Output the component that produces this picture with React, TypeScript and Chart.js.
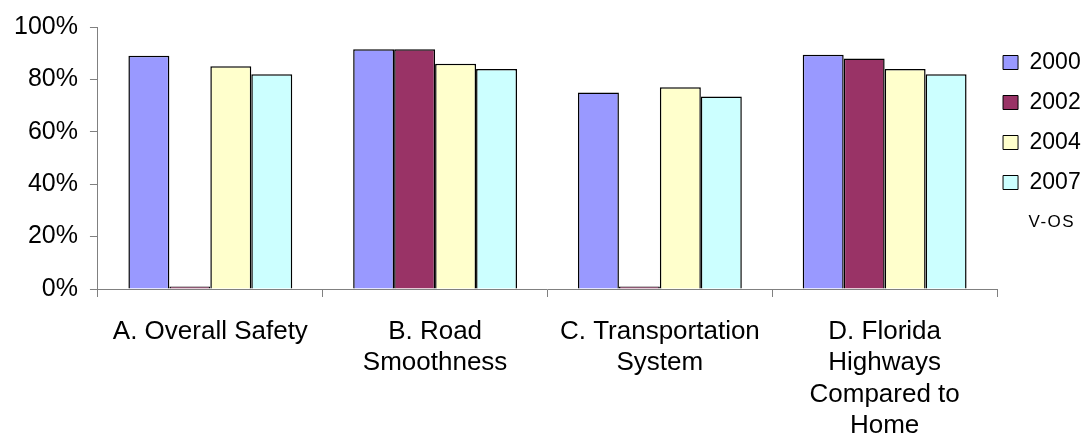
import React, { useEffect, useRef } from "react";
import { Chart, registerables } from "chart.js";

Chart.register(...registerables);

const categories: string[][] = [
  ["A. Overall Safety"],
  ["B. Road", "Smoothness"],
  ["C. Transportation", "System"],
  ["D. Florida", "Highways", "Compared to", "Home"],
];
const seriesLabels = ["2000", "2002", "2004", "2007"];
const values2000 = [89, 91.5, 75, 89.4];
const values2002 = [1, 91.5, 1, 88];
const values2004 = [85, 86, 77, 84];
const values2007 = [82, 84, 73.5, 82];
const seriesColors = ["#9999FF", "#993366", "#FFFFCC", "#CCFFFF"];
const legendNote = "V-OS";

const FONT = '"Liberation Sans", Arial, sans-serif';

const notePlugin = {
  id: "legendNote",
  afterDraw(chart: any) {
    const legend = chart.legend;
    if (!legend || !legend.legendHitBoxes || !legend.legendHitBoxes.length) return;
    const hb = legend.legendHitBoxes;
    const last = hb[hb.length - 1];
    const lo = legend.options.labels;
    const fs = lo.font.size;
    const x = last.left + lo.boxWidth + fs / 2;
    const y = last.top + last.height + lo.padding + fs / 2;
    const ctx = chart.ctx;
    ctx.save();
    ctx.font = `17px ${FONT}`;
    (ctx as any).letterSpacing = "1.5px";
    ctx.fillStyle = "#000";
    ctx.textAlign = "left";
    ctx.textBaseline = "middle";
    ctx.fillText(legendNote, x - 1, y);
    ctx.restore();
  },
};

export default function App() {
  const ref = useRef<HTMLCanvasElement | null>(null);
  useEffect(() => {
    if (!ref.current) return;
    const seriesValues = [values2000, values2002, values2004, values2007];
    const chart = new Chart(ref.current, {
      type: "bar",
      data: {
        labels: categories,
        datasets: seriesLabels.map((label, i) => ({
          label,
          data: seriesValues[i],
          backgroundColor: seriesColors[i],
          borderColor: "#000000",
          borderWidth: 1.5,
          categoryPercentage: 0.729,
          barPercentage: 1,
        })),
      },
      options: {
        responsive: false,
        animation: false,
        layout: { padding: { top: 25, left: 2, right: -4.7, bottom: -20 } },
        plugins: {
          tooltip: { enabled: false },
          legend: {
            position: "right",
            align: "start",
            title: { display: true, text: " ", font: { size: 10, lineHeight: 1 }, padding: 5 },
            labels: {
              color: "#000",
              boxWidth: 15,
              boxHeight: 14,
              padding: 6,
              font: { family: FONT, size: 23, lineHeight: 34 / 23 },
              generateLabels: (chart: any) =>
                Chart.defaults.plugins.legend.labels.generateLabels(chart).map((l: any) => ({
                  ...l,
                  text: [l.text],
                  lineWidth: 1,
                  strokeStyle: "#000",
                })),
            },
          },
        },
        scales: {
          x: {
            grid: {
              display: true,
              drawOnChartArea: false,
              drawTicks: true,
              tickLength: 8,
              color: "#808080",
              offset: true,
            },
            border: { display: true, color: "#808080", width: 1 },
            ticks: {
              color: "#000",
              font: { family: FONT, size: 26, lineHeight: 31.5 / 26 },
              padding: 19,
              maxRotation: 0,
              minRotation: 0,
              autoSkip: false,
            },
          },
          y: {
            min: 0,
            max: 100,
            grid: {
              display: true,
              drawOnChartArea: false,
              drawTicks: true,
              tickLength: 8,
              color: "#808080",
            },
            border: { display: true, color: "#808080", width: 1 },
            ticks: {
              stepSize: 20,
              color: "#000",
              padding: 12,
              font: { family: FONT, size: 25 },
              callback: (v: any) => `${v}%`,
            },
          },
        },
      },
      plugins: [notePlugin],
    } as any);
    return () => chart.destroy();
  }, []);
  return (
    <div style={{ position: "absolute", left: 0, top: 0, width: 1086, height: 441, background: "#fff" }}>
      <canvas ref={ref} width={1086} height={441} />
    </div>
  );
}
